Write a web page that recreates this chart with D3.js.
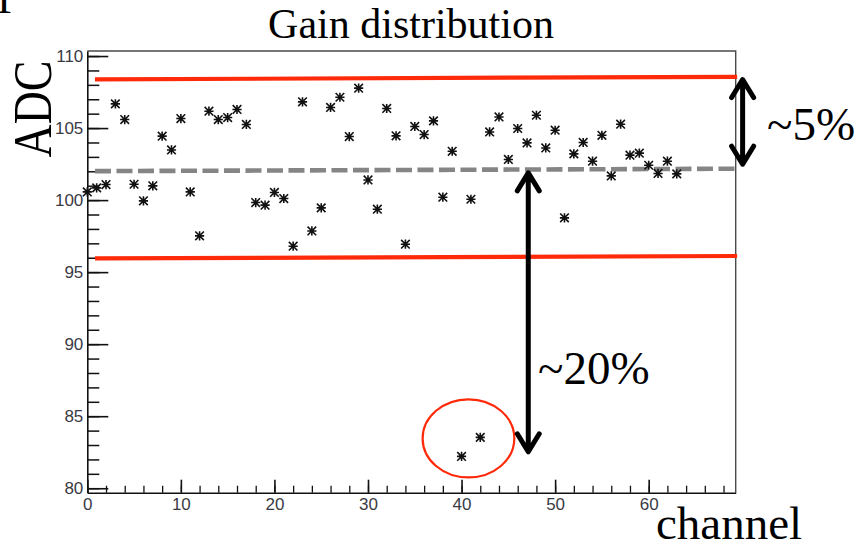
<!DOCTYPE html>
<html><head><meta charset="utf-8">
<script src="https://cdn.jsdelivr.net/npm/d3@7"></script>
<style>
html,body{margin:0;padding:0;background:#fff;}
svg{display:block;}
</style></head>
<body>
<script>
// ---- data ----
const channels = d3.range(0, 64);
const gains = [100.57,100.85,101.08,106.68,105.59,101.10,99.95,100.99,104.44,103.48,
  105.66,100.57,97.52,106.17,105.59,105.73,106.29,105.25,99.83,99.65,
  100.53,100.11,96.80,106.82,97.86,99.46,106.43,107.14,104.41,107.77,
  101.40,99.37,106.36,104.46,96.94,105.11,104.55,105.50,100.20,103.39,
  82.21,100.06,83.53,104.73,105.77,102.82,104.97,103.97,105.89,103.62,
  104.85,98.77,103.21,104.00,102.70,104.50,101.68,105.27,103.12,103.26,
  102.42,101.85,102.70,101.82];
const yTicks = [80, 85, 90, 95, 100, 105, 110];
const xTicks = [0, 10, 20, 30, 40, 50, 60];
const xDomain = [0, 69.3];
const yDomain = [79.69, 110.35];
// hand-drawn annotation lines [x0, y0, x1, y1] in data units
const limitLines = [[0.82, 108.38, 69.45, 108.56], [0.82, 95.95, 69.45, 96.12]];
const meanLine = [0.82, 102.01, 69.45, 102.18];
// arrows [x, yTop, yBottom]
const arrows = [[47.13, 101.96, 82.46], [70.04, 108.44, 102.42]];
const outlierRing = {cx: 40.74, cy: 83.46, rx: 4.9, ry: 2.71};
const labels = {title: "Gain distribution", y: "ADC", x: "channel", small: "~5%", big: "~20%"};

// ---- drawing ----
const W = 862, H = 548;
const svg = d3.select("body").append("svg").attr("width", W).attr("height", H);
const x = d3.scaleLinear().domain(xDomain).range([87.3, 735.7]);
const y = d3.scaleLinear().domain(yDomain).range([492.7, 51]);

const serif = "'Liberation Serif','Times New Roman',serif";
const sans = "'Liberation Sans',Arial,sans-serif";

// frame
svg.append("path")
  .attr("d", `M${x(xDomain[0])},${y(yDomain[1])}H${x(xDomain[1])}V${y(yDomain[0])}`)
  .attr("fill", "none").attr("stroke", "#4a4a4a").attr("stroke-width", 1.4);

// minor ticks
svg.append("g").attr("transform", `translate(${x(0)},0)`)
  .call(d3.axisLeft(y).tickValues(d3.range(80, 111, 1)).tickSize(-12).tickSizeOuter(0).tickFormat(""))
  .call(g => g.select(".domain").remove())
  .call(g => g.selectAll("line").attr("stroke", "#111").attr("stroke-width", 1.5));
svg.append("g").attr("transform", `translate(0,${y(yDomain[0])})`)
  .call(d3.axisBottom(x).tickValues(d3.range(0, 69, 2)).tickSize(-7).tickSizeOuter(0).tickFormat(""))
  .call(g => g.select(".domain").remove())
  .call(g => g.selectAll("line").attr("stroke", "#111").attr("stroke-width", 1.3));

// major axes
const yAxis = svg.append("g").attr("transform", `translate(${x(0)},0)`)
  .call(d3.axisLeft(y).tickValues(yTicks).tickSize(-21).tickSizeOuter(0).tickPadding(4));
const xAxis = svg.append("g").attr("transform", `translate(0,${y(yDomain[0])})`)
  .call(d3.axisBottom(x).tickValues(xTicks).tickSize(-13).tickSizeOuter(0).tickPadding(5));
[yAxis, xAxis].forEach(g => {
  g.select(".domain").attr("stroke", "#111").attr("stroke-width", 1.6);
  g.selectAll(".tick line").attr("stroke", "#111").attr("stroke-width", 1.6);
  g.selectAll(".tick text").attr("font-family", sans).attr("font-size", 17).attr("fill", "#3a3a44");
});

// limit lines
svg.selectAll(".lim").data(limitLines).enter().append("line")
  .attr("x1", d => x(d[0])).attr("y1", d => y(d[1]))
  .attr("x2", d => x(d[2])).attr("y2", d => y(d[3]))
  .attr("stroke", "#ff2a0a").attr("stroke-width", 4.2);
svg.append("line")
  .attr("x1", x(meanLine[0])).attr("y1", y(meanLine[1]))
  .attr("x2", x(meanLine[2])).attr("y2", y(meanLine[3]))
  .attr("stroke", "#858585").attr("stroke-width", 4.6).attr("stroke-dasharray", "16,5.5");

// markers
const star = "M-4.3,-4.3L4.3,4.3M-4.3,4.3L4.3,-4.3M-4.6,0L4.6,0M0,-4.6L0,4.6";
svg.append("g").selectAll("path").data(channels).enter().append("path")
  .attr("transform", (c, i) => `translate(${x(c)},${y(gains[i])})`)
  .attr("d", star).attr("fill", "none").attr("stroke", "#111").attr("stroke-width", 1.6);

// outlier ring
svg.append("ellipse")
  .attr("cx", x(outlierRing.cx)).attr("cy", y(outlierRing.cy))
  .attr("rx", x(outlierRing.rx) - x(0))
  .attr("ry", y(yDomain[0]) - y(yDomain[0] + outlierRing.ry))
  .attr("fill", "none").attr("stroke", "#ff2a0a").attr("stroke-width", 2.2);

// arrows
const hw = 11, hl = 19;
arrows.forEach(a => {
  const ax = x(a[0]), yt = y(a[1]), yb = y(a[2]);
  svg.append("path")
    .attr("d", `M${ax},${yt + 2}V${yb - 2}M${ax - hw},${yt + hl}L${ax},${yt + 1}L${ax + hw},${yt + hl}M${ax - hw},${yb - hl}L${ax},${yb - 1}L${ax + hw},${yb - hl}`)
    .attr("fill", "none").attr("stroke", "#000").attr("stroke-width", 5)
    .attr("stroke-linecap", "round").attr("stroke-linejoin", "round");
});

// texts
svg.append("text").attr("x", -8.8).attr("y", 13).attr("font-family", serif).attr("font-size", 42).text("T");
svg.append("text").attr("x", 411).attr("y", 38).attr("text-anchor", "middle")
  .attr("font-family", serif).attr("font-size", 42).text(labels.title);
svg.append("text").attr("transform", "translate(51,109) rotate(-90) scale(1,1.2)")
  .attr("text-anchor", "middle").attr("font-family", serif).attr("font-size", 46).text(labels.y);
svg.append("text").attr("x", 656).attr("y", 539)
  .attr("font-family", serif).attr("font-size", 47).text(labels.x);
svg.append("text").attr("x", 767).attr("y", 140)
  .attr("font-family", serif).attr("font-size", 47).text(labels.small);
svg.append("text").attr("x", 538).attr("y", 384)
  .attr("font-family", serif).attr("font-size", 47).text(labels.big);
</script>
</body></html>
